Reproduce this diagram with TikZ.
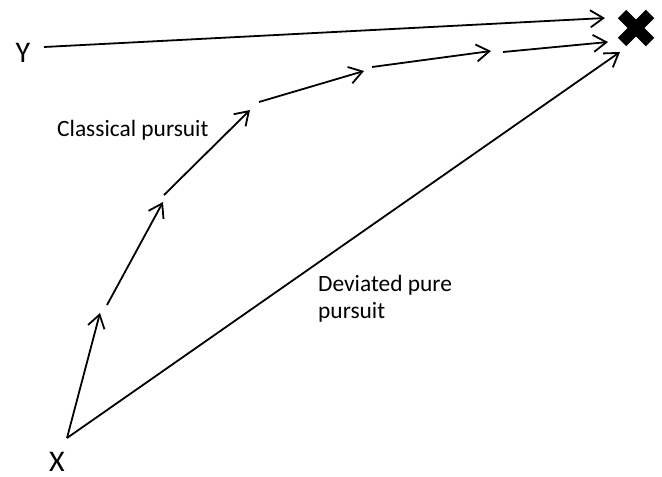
\documentclass[tikz,border=0pt]{standalone}
\usepackage{fontspec}
\setmainfont{Carlito}
\usetikzlibrary{arrows.meta,calc}
\begin{document}
\begin{tikzpicture}[x=1pt,y=-1pt,
  path/.style={line width=1.8pt,-{Straight Barb[length=13pt,width=17pt,line width=1.8pt]}},
  lab/.style={font=\fontsize{23.4}{28}\selectfont,anchor=base west,inner sep=0pt},
  big/.style={font=\fontsize{30}{30}\selectfont,inner sep=0pt,anchor=base,text depth=0pt},
  crossbar/.style={line width=12pt}]
\useasboundingbox (0,0) rectangle (662,477);
% labels
\node[big] (Y) at (23,62) {Y};
\node[big] (X) at (57,471) {X};
\node[lab] (cp) at (57,136) {Classical pursuit};
\node[lab] (dp1) at (318,291) {Deviated pure};
\node[lab] (dp2) at (318,318) {pursuit};
% target cross
\coordinate (T) at (636,28);
\draw[crossbar] ($(T)+(-14,-14)$) -- ($(T)+(14,14)$);
\draw[crossbar] ($(T)+(-14,14)$) -- ($(T)+(14,-14)$);
% coordinates
\coordinate (y0) at (44,47);
\coordinate (y1) at (605,18);
\coordinate (x0) at (67,438);
\coordinate (d1) at (620,52);
\coordinate (a0) at (67,438);   \coordinate (a1) at (100,313);
\coordinate (b0) at (107,305);  \coordinate (b1) at (163,202);
\coordinate (c0) at (164,195);  \coordinate (c1) at (250,110);
\coordinate (e0) at (259,102);  \coordinate (e1) at (364,71);
\coordinate (f0) at (372,67);   \coordinate (f1) at (491,51);
\coordinate (g0) at (503,52);   \coordinate (g1) at (608,42);
\draw[path] (y0) -- (y1);
\draw[path] (x0) -- (d1);
\draw[path] (a0) -- (a1);
\draw[path] (b0) -- (b1);
\draw[path] (c0) -- (c1);
\draw[path] (e0) -- (e1);
\draw[path] (f0) -- (f1);
\draw[path] (g0) -- (g1);
\end{tikzpicture}
\end{document}
